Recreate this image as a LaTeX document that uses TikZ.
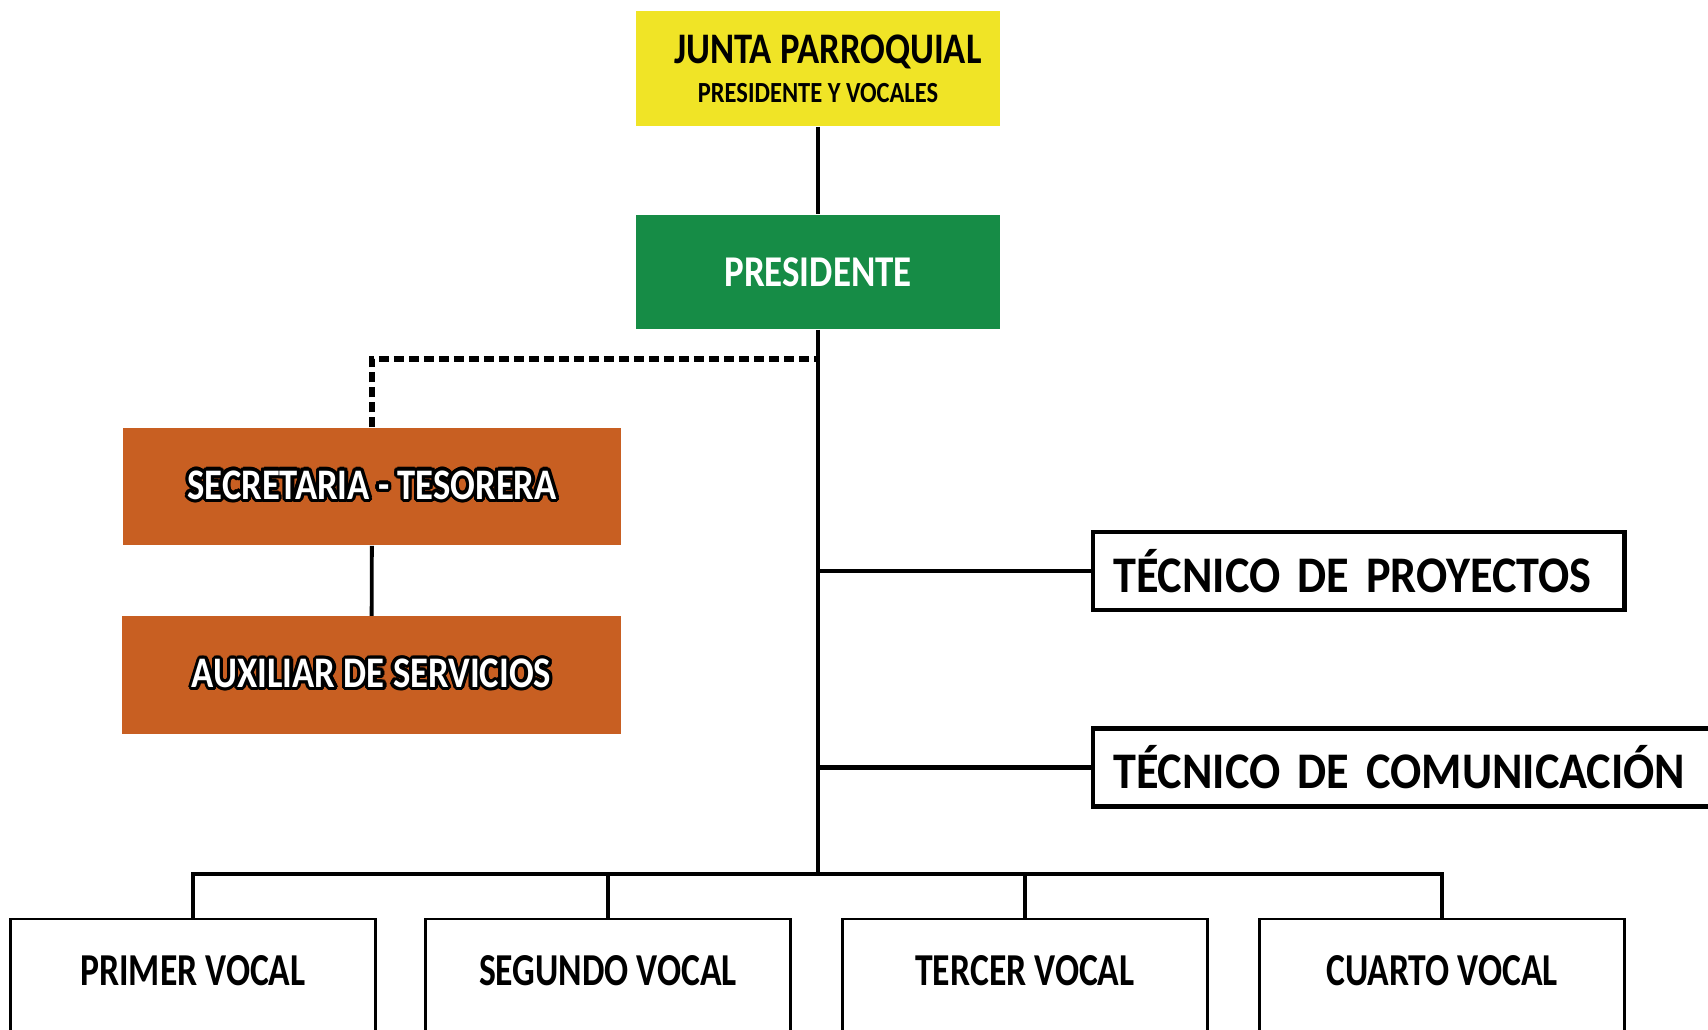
\documentclass[tikz,border=0pt]{standalone}
\usepackage{fontspec}
\setmainfont{Carlito}
\newfontfamily\narrowfont[FakeStretch=0.78]{Carlito}
\newfontfamily\semifont[FakeStretch=0.84]{Carlito}
\newfontfamily\tecfont[FakeStretch=0.9]{Carlito}
\usepackage{contour}
\contourlength{0.9pt}
\definecolor{juntayellow}{RGB}{240,228,38}
\definecolor{presgreen}{RGB}{22,140,70}
\definecolor{secorange}{RGB}{200,95,34}

\begin{document}
\begin{tikzpicture}[x=0.01cm, y=-0.01cm,
    colorbox/.style={rectangle, inner sep=0pt, minimum width=3.64cm, font=\semifont\bfseries},
    outlined/.style={colorbox, fill=secorange, minimum width=4.98cm, minimum height=1.17cm, text=white,
        font=\semifont\bfseries\fontsize{12.4}{14}\selectfont},
    tecbox/.style={rectangle, draw, line width=1.2pt, anchor=west, inner xsep=0.2cm, inner ysep=0pt,
        minimum height=0.78cm, align=left, font=\tecfont\bfseries\fontsize{14.6}{16}\selectfont},
    vocalbox/.style={rectangle, draw, line width=0.7pt, anchor=north, minimum width=3.65cm,
        inner xsep=0pt, inner ysep=0.36cm, text height=0.3cm, text depth=0.3cm,
        font=\narrowfont\bfseries\fontsize{13}{15}\selectfont},
    link/.style={line width=1.1pt},
    buslink/.style={line width=1.4pt}]
    \clip (0,0) rectangle (1708,1029);

    % Define nodes
    \node [colorbox, fill=juntayellow, minimum height=1.15cm, align=center] (junta) at (818,68.5)
        {\fontsize{12.4}{13}\selectfont\hspace*{0.2cm}JUNTA PARROQUIAL\\[-1pt]\fontsize{8.3}{9}\selectfont PRESIDENTE Y VOCALES};
    \node [colorbox, fill=presgreen, minimum height=1.14cm, text=white,
        font=\semifont\bfseries\fontsize{12.5}{14}\selectfont] (presidente) at (818,272) {PRESIDENTE};
    \node [outlined] (secre) at (372,486.5) {\contour{black}{SECRETARIA - TESORERA}};
    \node [outlined] (aux) at (371.5,675) {\contour{black}{AUXILIAR DE SERVICIOS}};
    \node [tecbox, text width=4.91cm] (tproy) at (1091,571) {TÉCNICO DE PROYECTOS};
    \node [tecbox, text width=7cm] (tcom) at (1091,767.5) {TÉCNICO DE COMUNICACIÓN};

    \node [vocalbox] (v1) at (193,918) {PRIMER VOCAL};
    \node [vocalbox] (v2) at (608,918) {SEGUNDO VOCAL};
    \node [vocalbox] (v3) at (1025,918) {TERCER VOCAL};
    \node [vocalbox] (v4) at (1442,918) {CUARTO VOCAL};

    \coordinate (bus) at (818,874);
    \coordinate (dashjoin) at (816,359);

    % Draw edges
    \draw [link] (junta) -- (presidente);
    \draw [link] (presidente) -- (bus);
    \draw [line width=1.6pt, dash pattern=on 0.1cm off 0.05cm] (secre.north) |- (dashjoin);
    \draw [link] (secre) -- (aux);
    \draw [buslink] (tproy.west) -- (tproy.west -| bus);
    \draw [buslink] (tcom.west) -- (tcom.west -| bus);
    \draw [buslink] (v1.north) |- (bus);
    \draw [buslink] (v4.north) |- (bus);
    \draw [link] (v2.north) -- (v2.north |- bus);
    \draw [link] (v3.north) -- (v3.north |- bus);
\end{tikzpicture}
\end{document}
